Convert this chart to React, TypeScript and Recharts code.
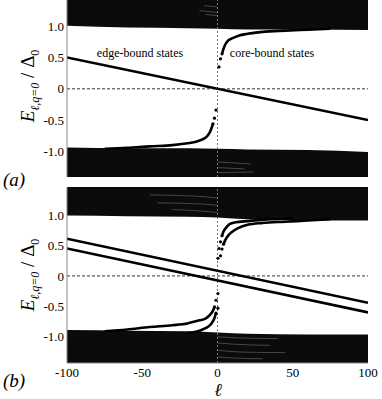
import React from "react"
import {
  Area,
  ComposedChart,
  Line,
  ReferenceLine,
  Scatter,
  XAxis,
  YAxis,
} from "recharts"

// ℓ grid used for band edges
const edgeL = [-100, -60, -20, 0, 20, 60, 100]
const bandTopA = [1.01, 0.98, 0.97, 0.96, 0.95, 0.95, 0.94]
const bandBotA = [-0.94, -0.95, -0.95, -0.96, -0.97, -0.98, -1.01]
const bandTopB = [0.99, 0.98, 0.97, 0.96, 0.93, 0.91, 0.91]
const bandBotB = [-0.89, -0.9, -0.91, -0.93, -0.95, -0.96, -0.96]

// edge-bound states (straight lines)
const edgeEnds = [-100, 100]
const edgeA = [0.5, -0.5]
const edgeB1 = [0.61, -0.44]
const edgeB2 = [0.45, -0.6]

// core-bound states, panel (a)
const coreUpDotsA = [[1, 0.35], [2, 0.48], [3, 0.56]]
const coreUpA = [[3, 0.56], [4, 0.64], [5, 0.7], [7, 0.77], [10, 0.81], [14, 0.85], [20, 0.88], [30, 0.91], [45, 0.93], [60, 0.945], [75, 0.96]]
const coreLoDotsA = [[-1, -0.34], [-2, -0.47], [-3, -0.56]]
const coreLoA = [[-3, -0.56], [-4, -0.63], [-5, -0.69], [-7, -0.76], [-10, -0.81], [-15, -0.85], [-20, -0.87], [-30, -0.9], [-45, -0.92], [-60, -0.945], [-75, -0.96]]

// core-bound states, panel (b)
const coreUp1DotsB = [[0.3, 0.29], [1, 0.45], [2, 0.56], [3, 0.66]]
const coreUp1B = [[3, 0.66], [4, 0.73], [6, 0.8], [8, 0.85], [12, 0.88], [20, 0.9], [30, 0.92], [40, 0.935], [50, 0.95]]
const coreUp2DotsB = [[2, 0.33], [3, 0.44], [4, 0.52]]
const coreUp2B = [[4, 0.52], [5, 0.58], [7, 0.66], [10, 0.73], [14, 0.79], [20, 0.84], [30, 0.87], [45, 0.89], [60, 0.91], [75, 0.93]]
const coreLo1DotsB = [[0.3, -0.29], [-1, -0.4], [-2, -0.51]]
const coreLo1B = [[-2, -0.51], [-3, -0.57], [-5, -0.64], [-8, -0.7], [-12, -0.73], [-20, -0.78], [-30, -0.81], [-45, -0.84], [-60, -0.88], [-75, -0.91]]
const coreLo2DotsB = [[0.3, -0.53], [-1, -0.61]]
const coreLo2B = [[-1, -0.61], [-2, -0.69], [-4, -0.78], [-6, -0.83], [-9, -0.87], [-13, -0.91], [-20, -0.94]]

// light streaks inside the continuum bands near ℓ = 0
const streaksA = [
  [[-9, 1.33], [0, 1.31]],
  [[-12, 1.25], [0, 1.22]],
  [[-8, 1.19], [0, 1.17]],
  [[0, -1.17], [22, -1.2]],
  [[0, -1.26], [18, -1.28]],
  [[0, -1.34], [24, -1.33]],
]
const streaksB = [
  [[-45, 1.33], [-15, 1.31], [0, 1.28]],
  [[-40, 1.2], [-10, 1.18], [0, 1.16]],
  [[-30, 1.09], [-8, 1.06], [0, 1.04]],
  [[0, -1.0], [15, -1.02], [40, -1.03]],
  [[0, -1.1], [10, -1.12], [35, -1.14]],
  [[0, -1.22], [15, -1.25], [45, -1.26]],
  [[0, -1.33], [12, -1.35], [30, -1.36]],
]

const xTicks = [-100, -50, 0, 50, 100]
const yTicks = [-1, -0.5, 0, 0.5, 1]
const yTickText: Record<string, string> = { "-1": "-1.0", "-0.5": "-0.5", "0": "0", "0.5": "0.5", "1": "1.0" }

const serif = "'Times New Roman', 'Liberation Serif', Times, 'DejaVu Serif', serif"

const pts = (arr: number[][]) => arr.map(([l, e]) => ({ l, e }))
const line = (ys: number[]) => edgeEnds.map((l, i) => ({ l, e: ys[i] }))
const band = (edge: number[], far: number) => edgeL.map((l, i) => ({ l, r: [edge[i], far] }))

const Dot = (p: any) => <circle cx={p.cx} cy={p.cy} r={1.6} fill="#000" />

type PanelProps = {
  top: number[]
  bot: number[]
  lo: number
  hi: number
  edges: number[][]
  curves: number[][][]
  dots: number[][][]
  streaks: number[][][]
  height: number
  showX: boolean
}

const Panel = ({ top, bot, lo, hi, edges, curves, dots, streaks, height, showX }: PanelProps) => (
  <ComposedChart width={382} height={height} margin={{ top: 0, right: 14, left: 0, bottom: showX ? 0 : 9 }}>
    <XAxis
      type="number"
      dataKey="l"
      domain={[-100, 100]}
      ticks={xTicks}
      allowDataOverflow
      hide={!showX}
      height={36}
      tickSize={0}
      tickMargin={5}
      axisLine={{ stroke: "#888" }}
      tick={{ fill: "#000", fontSize: 13, fontFamily: serif }}
    />
    <YAxis
      type="number"
      domain={[lo, hi]}
      ticks={yTicks}
      allowDataOverflow
      width={67}
      tickSize={0}
      tickMargin={3}
      axisLine={{ stroke: "#888" }}
      tickFormatter={(v: number) => yTickText[String(v)]}
      tick={{ fill: "#000", fontSize: 13, fontFamily: serif }}
    />
    <YAxis yAxisId="r" orientation="right" width={0} domain={[lo, hi]} tick={false} axisLine={{ stroke: "#888" }} />
    <Area data={band(top, hi)} dataKey="r" type="monotone" stroke="none" fill="#0b0b0b" fillOpacity={1} isAnimationActive={false} />
    <Area data={band(bot, lo)} dataKey="r" type="monotone" stroke="none" fill="#0b0b0b" fillOpacity={1} isAnimationActive={false} />
    {streaks.map((s, i) => (
      <Line key={"s" + i} data={pts(s)} dataKey="e" type="monotone" stroke="#fff" strokeOpacity={0.35} strokeWidth={0.7} dot={false} isAnimationActive={false} />
    ))}
    <ReferenceLine y={0} stroke="#000" strokeWidth={0.8} strokeDasharray="3 2" />
    <ReferenceLine x={0} stroke="#777" strokeWidth={1} strokeDasharray="2 2" />
    {edges.map((ys, i) => (
      <Line key={"e" + i} data={line(ys)} dataKey="e" type="linear" stroke="#000" strokeWidth={2.6} dot={false} isAnimationActive={false} />
    ))}
    {curves.map((c, i) => (
      <Line key={"c" + i} data={pts(c)} dataKey="e" type="monotone" stroke="#000" strokeWidth={2.6} dot={false} isAnimationActive={false} />
    ))}
    {dots.map((d, i) => (
      <Scatter key={"d" + i} data={pts(d)} dataKey="e" shape={Dot} isAnimationActive={false} />
    ))}
  </ComposedChart>
)

const yTitle = (
  <span style={{ fontFamily: serif, fontStyle: "italic", fontSize: 19, whiteSpace: "nowrap" }}>
    E<sub style={{ fontSize: 12 }}>ℓ,q=0</sub>
    <span style={{ fontStyle: "normal" }}> / Δ</span>
    <sub style={{ fontSize: 12, fontStyle: "normal" }}>0</sub>
  </span>
)

const abs = (x: number, y: number, extra: React.CSSProperties = {}): React.CSSProperties => ({
  position: "absolute",
  left: x,
  top: y,
  transform: "translate(-50%, -50%)",
  fontFamily: serif,
  whiteSpace: "nowrap",
  ...extra,
})

export default function App() {
  return (
    <div style={{ position: "relative", width: 382, height: 399, background: "#fff", overflow: "hidden" }}>
      <style>{"body{margin:0}"}</style>
      <div style={{ position: "absolute", left: 0, top: 0 }}>
        <Panel
          top={bandTopA}
          bot={bandBotA}
          lo={-1.41}
          hi={1.42}
          edges={[edgeA]}
          curves={[coreUpA, coreLoA]}
          dots={[coreUpDotsA, coreLoDotsA]}
          streaks={streaksA}
          height={186}
          showX={false}
        />
      </div>
      <div style={{ position: "absolute", left: 0, top: 187 }}>
        <Panel
          top={bandTopB}
          bot={bandBotB}
          lo={-1.43}
          hi={1.46}
          edges={[edgeB1, edgeB2]}
          curves={[coreUp1B, coreUp2B, coreLo1B, coreLo2B]}
          dots={[coreUp1DotsB, coreUp2DotsB, coreLo1DotsB, coreLo2DotsB]}
          streaks={streaksB}
          height={212}
          showX={true}
        />
      </div>
      <div style={abs(140, 53, { fontSize: 12 })}>edge-bound states</div>
      <div style={abs(272, 53, { fontSize: 12 })}>core-bound states</div>
      <div style={abs(30, 86, { transform: "translate(-50%, -50%) rotate(-90deg)" })}>{yTitle}</div>
      <div style={abs(30, 275, { transform: "translate(-50%, -50%) rotate(-90deg)" })}>{yTitle}</div>
      <div style={abs(14, 180, { fontSize: 19, fontStyle: "italic" })}>(a)</div>
      <div style={abs(14, 381, { fontSize: 19, fontStyle: "italic" })}>(b)</div>
      <div style={abs(218, 390, { fontSize: 18, fontStyle: "italic" })}>ℓ</div>
    </div>
  )
}
